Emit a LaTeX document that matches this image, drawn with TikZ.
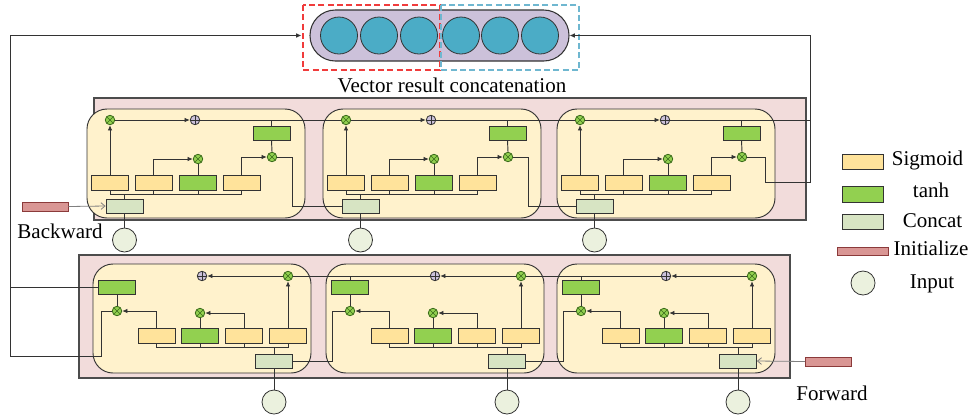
\documentclass[tikz,border=0pt]{standalone}
\usepackage{fontspec}
\setmainfont{Liberation Serif}
\usetikzlibrary{arrows.meta}
\definecolor{sigc}{HTML}{FFE39B}
\definecolor{tanhc}{HTML}{92D050}
\definecolor{catc}{HTML}{D7E4C3}
\definecolor{inic}{HTML}{D99694}
\definecolor{inibd}{HTML}{8B3A3A}
\definecolor{inpc}{HTML}{EBF1DE}
\definecolor{pinkc}{HTML}{F2DCDB}
\definecolor{cellc}{HTML}{FFF2CC}
\definecolor{pillc}{HTML}{CCC1DA}
\definecolor{ballc}{HTML}{4BACC6}
\definecolor{dred}{HTML}{F03C3C}
\definecolor{dblue}{HTML}{6FB7D0}
\definecolor{lnc}{HTML}{333333}
\definecolor{mulbd}{HTML}{3A6A1A}
\def\pxu{0.75pt}
\tikzset{
 box/.style={draw=lnc, line width=0.6pt, inner sep=0pt, minimum width=37*\pxu, minimum height=15*\pxu},
 sig/.style={box, fill=sigc},
 tnh/.style={box, fill=tanhc},
 cat/.style={box, fill=catc, minimum height=14*\pxu},
 ini/.style={draw=inibd, fill=inic, line width=0.6pt, inner sep=0pt, minimum width=46*\pxu, minimum height=9*\pxu},
 inp/.style={circle, draw=lnc, fill=inpc, line width=0.6pt, inner sep=0pt, minimum size=24*\pxu},
 gate/.style={circle, line width=0.6pt, inner sep=0pt, minimum size=9.5*\pxu},
 mul/.style={gate, draw=mulbd, fill=tanhc, path picture={\draw[line width=0.5pt, mulbd] (path picture bounding box.north west) -- (path picture bounding box.south east) (path picture bounding box.north east) -- (path picture bounding box.south west);}},
 addg/.style={gate, draw=lnc, fill=pillc, path picture={\draw[line width=0.5pt, lnc] (path picture bounding box.north) -- (path picture bounding box.south) (path picture bounding box.east) -- (path picture bounding box.west);}},
 ln/.style={draw=lnc, line width=0.7pt},
 arr/.style={ln, -{Latex[length=4pt,width=3.5pt]}},
 iarr/.style={draw=gray, line width=0.6pt, -{Straight Barb[length=3pt,width=5pt]}},
 cellr/.style={draw=lnc, fill=cellc, line width=0.7pt, rounded corners=15pt},
 outer/.style={draw=black!70, fill=pinkc, line width=0.9pt},
 lbl/.style={font=\fontsize{15.75}{18}\selectfont, inner sep=0pt, anchor=base},
 dbox/.style={line width=1pt, dash pattern=on 4.5pt off 2.5pt},
}
\begin{document}
\begin{tikzpicture}[x=0.75pt,y=-0.75pt]
\useasboundingbox (0,0) rectangle (973,419);

% ---------- top: vector concatenation ----------
\node[draw=lnc, fill=pillc, rounded corners=19pt, minimum width=259*\pxu, minimum height=51*\pxu, line width=0.8pt, inner sep=0pt] (pill) at (439.5,35.5) {};
\foreach \k/\cx in {1/339,2/379,3/419,4/461,5/500,6/540}
  \node[circle, draw=lnc, fill=ballc, minimum size=37*\pxu, inner sep=0pt, line width=0.6pt] (ball\k) at (\cx,35.5) {};
\draw[dbox, draw=dred] (303,5) rectangle (440,70);
\draw[dbox, draw=dblue] (441,5) rectangle (579,70);
\node[lbl] (vtitle) at (452,92) {Vector result concatenation};

% ---------- backward ----------
\draw[outer] (94,98) rectangle (806,220);
\foreach \i/\X in {1/87,2/323,3/557}{
  \draw[cellr] (\X,109) rectangle (\X+218,218);
}
\foreach \i/\X in {1/87,2/323,3/557}{
  \node[sig] (bsa\i) at (\X+23,182.5) {};
  \node[sig] (bsb\i) at (\X+66.5,182.5) {};
  \node[tnh] (bt\i) at (\X+111,182.5) {};
  \node[sig] (bsd\i) at (\X+154.5,182.5) {};
  \node[cat] (bcat\i) at (\X+37.5,206) {};
  \node[inp] (bin\i) at (\X+37.5,240) {};
  \node[mul] (bf\i) at (\X+23,120) {};
  \node[addg] (bp\i) at (\X+108,120) {};
  \node[mul] (bm\i) at (\X+111,159) {};
  \node[mul] (bo\i) at (\X+185,157) {};
  \node[tnh, minimum height=14*\pxu] (btop\i) at (\X+184.5,133) {};
  \draw[ln] (bsa\i.south) -- ++(0,4) -| (bsd\i.south);
  \draw[ln] (bsb\i.south) -- ++(0,4);
  \draw[ln] (bt\i.south) -- ++(0,4);
  \draw[ln] (bcat\i.north) -- ++(0,-5);
  \draw[arr] (bsa\i.north) -- (bf\i.south);
  \draw[arr] (bsb\i.north) |- (bm\i.west);
  \draw[ln] (bt\i.north) -- (bm\i.south);
  \draw[arr] (bsd\i.north) |- (bo\i.west);
  \draw[ln] (btop\i.south) -- (bo\i.north);
  \draw[arr] (bf\i.east) -- (bp\i.west);
  \draw[ln] (btop\i.north) -- (btop\i.north |- bp\i.east);
  \draw[ln] (bin\i.north) -- (bcat\i.south);
}
\draw[ln] (bp1.east) -- (bf2.west);
\draw[ln] (bp2.east) -- (bf3.west);
\draw[ln] (bo1.east) -- ++(15.5,0) |- (bcat2.west);
\draw[ln] (bo2.east) -- ++(15.5,0) |- (bcat3.west);
\coordinate (rc) at (810,182);
\coordinate (rt) at (810,35.5);
\draw[arr] (bo3.east) -- ++(18.5,0) |- (rc) -- (rt) -- (pill.east);
\draw[ln] (bp3.east) -- (bp3.east -| rc);
\node[ini] (binit) at (45,206.5) {};
\draw[iarr] (binit.east) -- (bcat1.west);
\node[lbl] (bwd) at (60,238) {Backward};

% ---------- forward ----------
\draw[outer] (79,255) rectangle (790,378);
\foreach \i/\X in {1/93,2/326,3/557}{
  \draw[cellr] (\X,264) rectangle (\X+218,373);
}
\foreach \i/\X in {1/93,2/326,3/557}{
  \node[sig] (fsa\i) at (\X+63.5,335.5) {};
  \node[tnh] (ft\i) at (\X+107,335.5) {};
  \node[sig] (fsc\i) at (\X+151,335.5) {};
  \node[sig] (fsd\i) at (\X+195,335.5) {};
  \node[tnh, minimum height=14*\pxu] (ftop\i) at (\X+24,287) {};
  \node[mul] (fo\i) at (\X+24,311) {};
  \node[mul] (fm\i) at (\X+107,313) {};
  \node[mul] (ff\i) at (\X+195,276) {};
  \node[addg] (fp\i) at (\X+109,276) {};
  \node[cat] (fcat\i) at (\X+181,361) {};
  \node[inp] (fin\i) at (\X+181,402) {};
  \draw[ln] (fsa\i.south) -- ++(0,4) -| (fsd\i.south);
  \draw[ln] (ft\i.south) -- ++(0,4);
  \draw[ln] (fsc\i.south) -- ++(0,4);
  \draw[ln] (fcat\i.north) -- ++(0,-7);
  \draw[arr] (fsd\i.north) -- (ff\i.south);
  \draw[arr] (ff\i.west) -- (fp\i.east);
  \draw[arr] (fsa\i.north) |- (fo\i.east);
  \draw[arr] (fsc\i.north) |- (fm\i.east);
  \draw[ln] (ft\i.north) -- (fm\i.south);
  \draw[ln] (ftop\i.south) -- (fo\i.north);
  \draw[ln] (fin\i.north) -- (fcat\i.south);
}
\draw[ln] (fp2.west) -- (ff1.east);
\draw[ln] (fp3.west) -- (ff2.east);
\draw[ln] (ftop2.north) -- (ftop2.north |- fp2.west);
\draw[ln] (ftop3.north) -- (ftop3.north |- fp3.west);
\draw[ln] (fo2.west) -- ++(-12.5,0) |- (fcat1.east);
\draw[ln] (fo3.west) -- ++(-12.5,0) |- (fcat2.east);
\coordinate (lb) at (10,356);
\coordinate (lt) at (10,35.5);
\draw[arr, shorten >=6pt] (fo1.west) -- ++(-10.5,0) |- (lb) -- (lt) -- (pill.west);
\draw[ln] (ftop1.west) -- (ftop1.west -| lb);
\node[ini] (finit) at (828.5,361.5) {};
\draw[iarr] (finit.west) -- (fcat3.east);
\node[lbl] (fwd) at (832,400) {Forward};

% ---------- legend ----------
\node[sig, minimum width=41*\pxu] (lsig) at (862.5,161.5) {};
\node[tnh, minimum width=41*\pxu, minimum height=16*\pxu] (ltanh) at (862.5,194) {};
\node[cat, minimum width=41*\pxu, minimum height=15*\pxu] (lcat) at (862.5,221.5) {};
\node[ini, minimum width=51*\pxu, minimum height=8*\pxu] (lini) at (862.5,251) {};
\node[inp] (linp) at (863,283) {};
\node[lbl] (tsig) at (927.5,165) {Sigmoid};
\node[lbl] (ttanh) at (931,197.5) {tanh};
\node[lbl] (tcat) at (932.5,227.5) {Concat};
\node[lbl] (tini) at (931,255) {Initialize};
\node[lbl] (tinp) at (932,288) {Input};
\end{tikzpicture}
\end{document}
